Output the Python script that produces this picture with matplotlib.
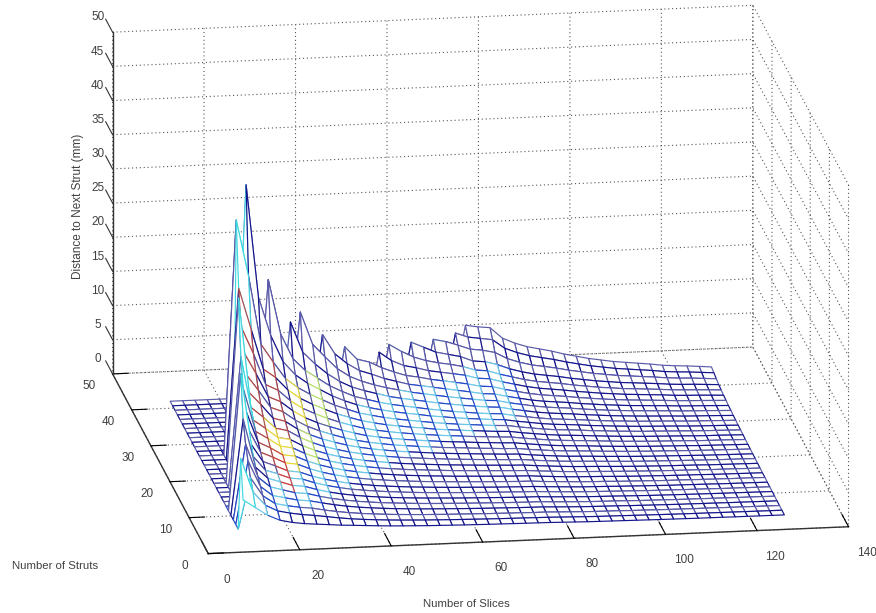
#!/usr/bin/env python
import numpy as np
import matplotlib
matplotlib.use('Agg')
import matplotlib.pyplot as plt
from mpl_toolkits.mplot3d import proj3d

# mesh nodes along each axis
slices = [9.2 + 2.69 * k for k in range(45)]
struts = [3.8 + 1.27 * k for k in range(31)]

# distance values, one list per slice column,
# from the front row back to the ridge (the rest of a column is flat zero)
z_cols = [
    [5.6, 11],
    [4.4, 6, 7.4, 9.2, 11, 14, 20],
    [3.2, 4, 4.7, 5.4, 6.1, 6.9, 7.8, 9, 10.5, 12.5, 15, 19, 27],
    [2.4, 3.1, 3.5, 4, 4.6, 5.2, 5.7, 6.3, 7, 7.8, 8.7, 9.7, 10.9, 12.5, 14.4, 17, 20, 25, 34.3],
    [2, 2.7, 3.1, 3.6, 4.1, 4.6, 5.1, 5.6, 6.2, 6.9, 7.6, 8.4, 9.4, 10.6, 12, 13.8, 16, 19, 26, 38.7],
    [1.75, 2.4, 2.8, 3.2, 3.6, 4, 4.4, 4.8, 5.3, 5.8, 6.4, 7, 7.7, 8.5, 9.4, 10.3, 11.4, 13, 16, 22.2],
    [1.6, 2.2, 2.6, 3, 3.4, 3.78, 4.18, 4.53, 5.02, 5.54, 6.07, 6.64, 7.26, 7.95, 8.7, 9.5, 10.5, 11.7, 13.3, 16.5, 24],
    [1.45, 1.95, 2.25, 2.63, 2.93, 3.23, 3.56, 3.86, 4.28, 4.73, 5.18, 5.66, 6.2, 6.75, 7.4, 8.1, 8.9, 9.8, 10.8, 12.6, 16],
    [1.3, 1.69, 1.95, 2.28, 2.54, 2.8, 3.09, 3.35, 3.7, 4.1, 4.49, 4.9, 5.36, 5.85, 6.4, 7, 7.7, 8.5, 9.4, 10.6, 12.3, 17],
    [1.2, 1.48, 1.71, 2, 2.22, 2.45, 2.71, 2.94, 3.25, 3.59, 3.93, 4.3, 4.7, 5.15, 5.65, 6.2, 6.85, 7.55, 8.35, 9.3, 10.5, 12.5, 17.7],
    [1.09, 1.32, 1.52, 1.77, 1.97, 2.18, 2.4, 2.61, 2.88, 3.19, 3.49, 3.82, 4.2, 4.6, 5.05, 5.55, 6.1, 6.75, 7.45, 8.3, 9.3, 10.7, 12.9],
    [.98, 1.19, 1.37, 1.6, 1.78, 1.96, 2.17, 2.35, 2.6, 2.87, 3.15, 3.44, 3.76, 4.1, 4.5, 4.95, 5.45, 6, 6.6, 7.3, 8.1, 9.2, 11, 13.6],
    [.89, 1.08, 1.24, 1.45, 1.61, 1.78, 1.97, 2.13, 2.36, 2.61, 2.85, 3.13, 3.42, 3.71, 4.05, 4.45, 4.9, 5.4, 5.95, 6.5, 7.2, 8, 9.2, 10.7],
    [.82, .99, 1.14, 1.33, 1.48, 1.63, 1.81, 1.96, 2.17, 2.39, 2.62, 2.87, 3.14, 3.4, 3.69, 4, 4.4, 4.85, 5.3, 5.85, 6.4, 7.1, 8, 9.2, 11],
    [.76, .92, 1.06, 1.23, 1.37, 1.51, 1.67, 1.81, 2, 2.22, 2.43, 2.66, 2.9, 3.15, 3.41, 3.71, 4.05, 4.45, 4.9, 5.35, 5.9, 6.5, 7.2, 8.1, 9.1],
    [.7, .85, .98, 1.14, 1.27, 1.4, 1.55, 1.68, 1.86, 2.05, 2.25, 2.46, 2.69, 2.92, 3.16, 3.44, 3.75, 4.1, 4.5, 4.95, 5.4, 6, 6.6, 7.5, 8.6],
    [.66, .8, .92, 1.07, 1.19, 1.32, 1.45, 1.58, 1.74, 1.93, 2.11, 2.31, 2.52, 2.74, 2.97, 3.23, 3.5, 3.85, 4.2, 4.6, 5, 5.5, 6.1, 6.8, 7.7, 9.3],
    [.62, .75, .86, 1.01, 1.12, 1.24, 1.37, 1.48, 1.64, 1.81, 1.99, 2.17, 2.38, 2.58, 2.79, 3.04, 3.3, 3.6, 3.95, 4.3, 4.7, 5.15, 5.7, 6.3, 7, 8, 9.7],
    [.58, .71, .82, .95, 1.06, 1.17, 1.29, 1.4, 1.55, 1.71, 1.88, 2.05, 2.24, 2.43, 2.64, 2.87, 3.11, 3.4, 3.7, 4.05, 4.4, 4.85, 5.3, 5.8, 6.4, 7.2, 8.6],
    [.55, .67, .77, .9, 1, 1.1, 1.22, 1.32, 1.46, 1.61, 1.77, 1.93, 2.11, 2.29, 2.48, 2.7, 2.93, 3.15, 3.45, 3.75, 4.1, 4.55, 5, 5.5, 6.1, 6.8, 7.7, 9.2],
    [.52, .63, .73, .85, .95, 1.05, 1.16, 1.26, 1.39, 1.54, 1.68, 1.84, 2.01, 2.18, 2.37, 2.57, 2.79, 3, 3.25, 3.55, 3.85, 4.25, 4.7, 5.2, 5.7, 6.3, 7.1, 8.4],
    [.5, .6, .7, .81, .9, 1, 1.1, 1.19, 1.32, 1.46, 1.6, 1.75, 1.91, 2.08, 2.25, 2.45, 2.66, 2.85, 3.07, 3.32, 3.6, 4, 4.4, 4.9, 5.4, 6, 6.7, 7.6, 8.8],
    [.47, .57, .66, .77, .86, .95, 1.05, 1.13, 1.25, 1.39, 1.52, 1.66, 1.82, 1.97, 2.13, 2.32, 2.52, 2.71, 2.92, 3.15, 3.4, 3.75, 4.15, 4.6, 5.1, 5.7, 6.4, 7.2, 8.4],
    [.45, .55, .63, .73, .82, .9, 1, 1.08, 1.2, 1.32, 1.45, 1.59, 1.73, 1.88, 2.04, 2.22, 2.4, 2.58, 2.78, 3, 3.2, 3.55, 3.9, 4.3, 4.8, 5.4, 6, 6.8, 7.8, 8.9],
    [.43, .52, .60, .70, .78, .86, .95, 1.03, 1.14, 1.26, 1.38, 1.51, 1.65, 1.79, 1.94, 2.11, 2.29, 2.46, 2.65, 2.86, 3.05, 3.35, 3.65, 3.97, 4.39, 4.89, 5.41, 6.08, 7.14, 8.24, 9.3],
    [.41, .50, .59, .68, .76, .84, .92, 1.00, 1.11, 1.22, 1.33, 1.46, 1.59, 1.73, 1.88, 2.04, 2.21, 2.38, 2.57, 2.76, 2.95, 3.24, 3.54, 3.84, 4.25, 4.73, 5.24, 5.89, 6.91, 7.97, 9],
    [.37, .45, .52, .60, .67, .74, .82, .89, .98, 1.08, 1.18, 1.30, 1.42, 1.54, 1.67, 1.82, 1.97, 2.11, 2.28, 2.46, 2.62, 2.88, 3.14, 3.42, 3.78, 4.21, 4.66, 5.4, 6.5, 7.7, 8.8],
    [.33, .40, .47, .54, .60, .67, .73, .80, .89, .97, 1.07, 1.17, 1.27, 1.38, 1.50, 1.63, 1.77, 1.90, 2.05, 2.21, 2.36, 2.59, 2.83, 3.07, 3.40, 3.79, 4.19, 4.71, 5.53, 6.38, 7.2],
    [.29, .36, .42, .48, .54, .60, .65, .71, .79, .86, .95, 1.04, 1.13, 1.23, 1.34, 1.45, 1.57, 1.69, 1.82, 1.96, 2.10, 2.30, 2.52, 2.73, 3.02, 3.37, 3.72, 4.19, 4.92, 5.67, 6.4],
    [.27, .32, .38, .44, .49, .54, .59, .64, .71, .78, .86, .94, 1.03, 1.11, 1.21, 1.32, 1.43, 1.53, 1.65, 1.78, 1.90, 2.09, 2.28, 2.48, 2.74, 3.05, 3.38, 3.79, 4.45, 5.14, 5.8],
    [.25, .30, .35, .41, .45, .50, .55, .60, .66, .73, .80, .87, .96, 1.04, 1.13, 1.23, 1.33, 1.43, 1.54, 1.66, 1.77, 1.94, 2.12, 2.31, 2.55, 2.84, 3.14, 3.53, 4.15, 4.78, 5.4],
    [.23, .28, .33, .38, .42, .47, .51, .56, .62, .68, .74, .81, .89, .96, 1.05, 1.14, 1.23, 1.32, 1.43, 1.54, 1.64, 1.80, 1.97, 2.14, 2.36, 2.63, 2.91, 3.27, 3.84, 4.43, 5],
    [.21, .25, .29, .34, .38, .42, .46, .50, .55, .61, .67, .73, .80, .86, .94, 1.02, 1.11, 1.19, 1.28, 1.38, 1.48, 1.62, 1.77, 1.92, 2.12, 2.37, 2.62, 2.94, 3.46, 3.99, 4.5],
    [.19, .23, .27, .31, .34, .38, .42, .46, .50, .55, .61, .66, .73, .79, .86, .93, 1.01, 1.08, 1.17, 1.26, 1.34, 1.48, 1.61, 1.75, 1.94, 2.16, 2.39, 2.68, 3.15, 3.63, 4.1],
    [.17, .21, .24, .28, .31, .34, .38, .41, .46, .50, .55, .60, .65, .71, .77, .84, .91, .98, 1.05, 1.14, 1.21, 1.33, 1.45, 1.58, 1.75, 1.95, 2.15, 2.42, 2.84, 3.28, 3.7],
    [.16, .19, .22, .26, .29, .32, .35, .38, .42, .46, .50, .55, .60, .65, .71, .77, .84, .90, .97, 1.04, 1.12, 1.22, 1.34, 1.45, 1.60, 1.79, 1.98, 2.22, 2.61, 3.01, 3.4],
    [.14, .17, .20, .23, .26, .29, .32, .34, .38, .42, .46, .50, .55, .60, .65, .70, .76, .82, .88, .95, 1.02, 1.12, 1.22, 1.32, 1.46, 1.63, 1.80, 2.03, 2.38, 2.75, 3.1],
    [.13, .16, .19, .22, .24, .27, .30, .32, .36, .39, .43, .47, .51, .56, .61, .66, .71, .77, .83, .89, .95, 1.04, 1.14, 1.24, 1.37, 1.53, 1.69, 1.90, 2.23, 2.57, 2.9],
    [.12, .15, .18, .20, .23, .25, .28, .30, .33, .36, .40, .44, .48, .52, .56, .61, .66, .71, .77, .83, .89, .97, 1.06, 1.15, 1.27, 1.42, 1.57, 1.77, 2.07, 2.39, 2.7],
    [.12, .14, .16, .19, .21, .23, .26, .28, .31, .34, .37, .41, .44, .48, .52, .57, .62, .66, .71, .77, .82, .90, .98, 1.07, 1.18, 1.32, 1.46, 1.64, 1.92, 2.22, 2.5],
    [.10, .13, .15, .17, .19, .21, .23, .25, .28, .30, .33, .36, .40, .43, .47, .51, .55, .59, .64, .69, .74, .81, .88, .96, 1.06, 1.18, 1.31, 1.47, 1.73, 1.99, 2.25],
    [.10, .12, .14, .16, .18, .20, .21, .23, .26, .28, .31, .34, .37, .40, .44, .48, .52, .55, .60, .64, .69, .76, .83, .90, .99, 1.10, 1.22, 1.37, 1.61, 1.86, 2.1],
    [.09, .11, .13, .15, .17, .19, .20, .22, .25, .27, .30, .32, .35, .38, .42, .45, .49, .53, .57, .61, .66, .72, .79, .85, .94, 1.05, 1.16, 1.31, 1.54, 1.77, 2],
    [.09, .10, .12, .14, .16, .17, .19, .21, .23, .25, .27, .30, .33, .36, .39, .42, .46, .49, .53, .57, .61, .67, .73, .79, .87, .97, 1.08, 1.21, 1.42, 1.64, 1.85],
    [.08, .10, .11, .13, .14, .16, .17, .19, .21, .23, .25, .28, .30, .33, .36, .39, .42, .45, .48, .52, .56, .61, .67, .73, .80, .89, .99, 1.11, 1.31, 1.51, 1.7],
]

x_ticks = [0, 20, 40, 60, 80, 100, 120, 140]
y_ticks = [0, 10, 20, 30, 40, 50]
z_ticks = [0, 5, 10, 15, 20, 25, 30, 35, 40, 45, 50]

# hand picked edge colours: slice column, first row, last row, colour
accents = [
    (3, 7, 17, '#b04a4a'),
    (5, 11, 17, '#b04a4a'),
    (4, 4, 8, '#c84040'),
    (5, 7, 10, '#e6d840'),
    (7, 14, 17, '#e6d840'),
    (4, 9, 11, '#e6d840'),
    (9, 15, 19, '#b8e070'),
    (7, 9, 12, '#b8e070'),
    (0, 0, 1, '#40d8e0'),
    (1, 5, 6, '#40d8e0'),
    (2, 10, 12, '#40d8e0'),
    (3, 17, 18, '#40d8e0'),
]
navy = '#14148c'
steel = '#5a5aa8'
blue = '#2448c8'
cyan = '#6cc8e8'
text_grey = '#404040'
axis_grey = '#333333'

plt.rcParams['font.family'] = ['Liberation Sans', 'DejaVu Sans']
plt.rcParams['grid.linestyle'] = (0, (1, 2.5))
plt.rcParams['grid.linewidth'] = 0.8
plt.rcParams['grid.color'] = '#555555'

z_table = np.zeros((len(struts), len(slices)))
for j, col in enumerate(z_cols):
    z_table[:len(col), j] = col
X, Y = np.meshgrid(slices, struts)

fig = plt.figure(figsize=(8.76, 6.13), dpi=100)
ax = fig.add_axes([174.5 / 876, 27.5 / 613, 596 / 876, 596 / 613], projection='3d',
                  proj_type='ortho')
ax.set_box_aspect((1, 1, 0.55), zoom=1.6)
ax.view_init(elev=16.3, azim=-98.5)

# edge colour of each mesh cell
edge = []
for i in range(len(struts) - 1):
    for j in range(len(slices) - 1):
        zm = z_table[i:i + 2, j:j + 2].mean()
        c = navy
        if j < 27 and 2.6 < zm < 5.5:
            c = cyan if j % 2 else blue
        elif j < 27 and zm >= 5.5:
            c = steel if j % 2 else navy
        if i % 2 and c == navy:
            c = steel
        for a in accents:
            if a[0] == j and a[1] <= i <= a[2]:
                c = a[3]
        edge.append(c)

surf = ax.plot_surface(X, Y, z_table, rstride=1, cstride=1, color='white', shade=False,
                       linewidth=0.85, antialiased=True)
surf.set_edgecolor(edge)
surf.set_clip_on(False)

ax.set_xlim(0, 140, view_margin=0)
ax.set_ylim(0, 50, view_margin=0)
ax.set_zlim(0, 50, view_margin=0)
ax.set_xticks(x_ticks)
ax.set_yticks(y_ticks)
ax.set_zticks(z_ticks)
ax.set_xticklabels([])
ax.set_yticklabels([])
ax.set_zticklabels([])


def label3d(x, y, z, s):
    # place a tick label by its projected 3d position
    xp, yp, _ = proj3d.proj_transform(x, y, z, ax.get_proj())
    ax.text2D(xp, yp, s, transform=ax.transData, fontsize=8.5, color=text_grey,
              ha='center', va='center', clip_on=False)


# the z axis stands on the far left corner, mplot3d would put it on the right
ax.plot([0, 0], [50, 50], [0, 50], color=axis_grey, lw=1, clip_on=False)
for z in z_ticks:
    ax.plot([0, 0], [50, 53.6], [z, z], color=axis_grey, lw=0.8, clip_on=False)
    label3d(-1.5, 54.2, z, str(z))
for x in x_ticks:
    label3d(x + 0.9, -7.3, 0, str(x))
for y in y_ticks:
    label3d(-6.3, y - 3, 0, str(y))

for axis, f in ((ax.xaxis, 0.86), (ax.yaxis, 0.3), (ax.zaxis, 0)):
    axis.set_pane_color((1, 1, 1, 0))
    axis.pane.set_edgecolor('none')
    axis.line.set_color(axis_grey)
    axis.line.set_linewidth(1)
    axis._axinfo['tick']['outward_factor'] = f
    axis._axinfo['tick']['inward_factor'] = 0
    axis._axinfo['tick']['linewidth'] = {True: 0.8, False: 0.8}
ax.zaxis.line.set_visible(False)

fig.text(12 / 876, 1 - 566 / 613, 'Number of Struts', fontsize=8.2, color=text_grey, va='center')
fig.text(466 / 876, 1 - 604 / 613, 'Number of Slices', fontsize=8.2, color=text_grey,
         ha='center', va='center')
fig.text(78 / 876, 1 - 206 / 613, 'Distance to Next Strut (mm)', fontsize=8.5, color=text_grey,
         rotation=90, ha='center', va='center')

fig.savefig('out.png', dpi=100)
